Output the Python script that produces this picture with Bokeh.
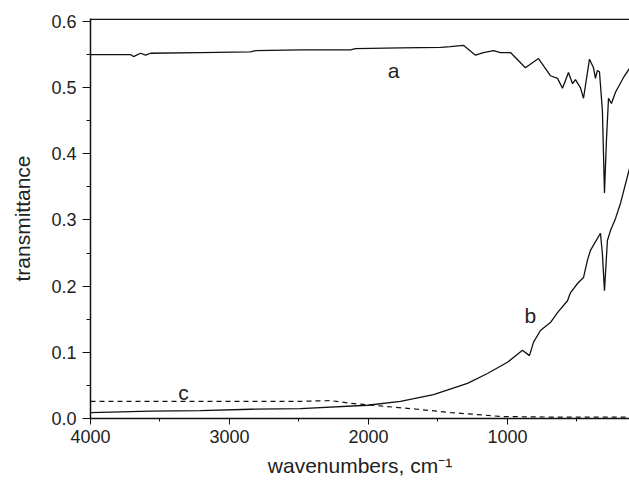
from bokeh.plotting import figure
from bokeh.models import Range1d, SingleIntervalTicker, FixedTicker, PrintfTickFormatter, Span, Label
from bokeh.embed import file_html
from bokeh.resources import INLINE

# curve a
a_x = [4000, 3712, 3691, 3640, 3604, 3568, 3209, 2849, 2813, 2489, 2130, 2094, 1770, 1480, 1410, 1317,
       1230, 1173, 1101, 1050, 978, 871, 777, 691, 640, 604, 561, 532, 511, 475, 453, 410, 381, 367,
       353, 338, 317, 302, 288, 273, 252, 223, 166, 122]
a_y = [0.550, 0.550, 0.547, 0.552, 0.549, 0.552, 0.553, 0.554, 0.556, 0.557, 0.557, 0.559, 0.560, 0.561,
       0.562, 0.564, 0.549, 0.553, 0.556, 0.553, 0.553, 0.530, 0.544, 0.518, 0.514, 0.499, 0.523, 0.506,
       0.512, 0.500, 0.484, 0.543, 0.530, 0.514, 0.526, 0.524, 0.465, 0.341, 0.420, 0.484, 0.476, 0.493,
       0.515, 0.529]

# curve b
b_x = [4000, 3568, 3209, 2849, 2489, 2007, 1770, 1532, 1288, 1144, 1000, 892, 842, 813, 763, 691, 640,
       568, 547, 496, 453, 425, 403, 331, 317, 302, 281, 259, 223, 187, 122]
b_y = [0.009, 0.011, 0.012, 0.014, 0.015, 0.020, 0.026, 0.036, 0.053, 0.068, 0.085, 0.103, 0.095, 0.115,
       0.133, 0.145, 0.160, 0.178, 0.190, 0.204, 0.213, 0.239, 0.254, 0.280, 0.249, 0.193, 0.269, 0.284,
       0.302, 0.325, 0.378]

# curve c (dashed)
c_x = [4000, 3209, 2489, 2273, 2130, 1863, 1648, 1410, 1216, 1050, 619, 122]
c_y = [0.026, 0.026, 0.026, 0.027, 0.023, 0.018, 0.014, 0.009, 0.006, 0.003, 0.002, 0.002]

x_ticks = [4000, 3000, 2000, 1000]
y_ticks = [0.0, 0.1, 0.2, 0.3, 0.4, 0.5, 0.6]

FONT = "Liberation Sans"
INK = "#111111"

p = figure(width=629, height=482, output_backend="svg", toolbar_location=None,
           x_range=Range1d(4000, 122), y_range=Range1d(0, 0.6045),
           min_border_left=90, min_border_right=0, min_border_top=18, min_border_bottom=64)
p.outline_line_color = None
p.grid.grid_line_color = None
p.background_fill_color = "white"

p.line(a_x, a_y, line_color=INK, line_width=1.3)
p.line(b_x, b_y, line_color=INK, line_width=1.3)
p.line(c_x, c_y, line_color=INK, line_width=1.2, line_dash="5 4")

p.add_layout(Span(location=0.6035, dimension="width", line_color=INK, line_width=1.5))

p.xaxis.ticker = SingleIntervalTicker(interval=1000, num_minor_ticks=2)
p.xaxis.formatter = PrintfTickFormatter(format="%d")
p.yaxis.ticker = FixedTicker(ticks=y_ticks, minor_ticks=[0.05, 0.15, 0.25, 0.35, 0.45, 0.55])
p.yaxis.formatter = PrintfTickFormatter(format="%.1f")

for ax in (p.xaxis, p.yaxis):
    ax.axis_line_color = INK
    ax.axis_line_width = 1.5
    ax.major_tick_line_color = INK
    ax.minor_tick_line_color = INK
    ax.major_tick_in = 0
    ax.minor_tick_in = 0
    ax.major_label_text_font = FONT
    ax.major_label_text_font_size = "18px"
    ax.major_label_text_color = "#222222"
    ax.axis_label_text_font = FONT
    ax.axis_label_text_font_size = "21px"
    ax.axis_label_text_font_style = "normal"
    ax.axis_label_text_color = "#222222"

p.xaxis.major_tick_out = 6
p.xaxis.minor_tick_out = 3
p.xaxis.major_label_standoff = 5
p.xaxis.axis_label = "wavenumbers, cm⁻¹"
p.xaxis.axis_label_standoff = 8

p.yaxis.major_tick_out = 8
p.yaxis.minor_tick_out = 4
p.yaxis.major_label_standoff = 6
p.yaxis.axis_label = "transmittance"
p.yaxis.axis_label_standoff = 14

for txt, x, y in (("a", 1820, 0.526), ("b", 835, 0.156), ("c", 3331, 0.039)):
    p.add_layout(Label(x=x, y=y, text=txt, text_font=FONT, text_font_size="21px",
                       text_color="#222222", text_align="center", text_baseline="alphabetic"))

html = file_html(p, INLINE)
open("out.html", "w").write(html)
